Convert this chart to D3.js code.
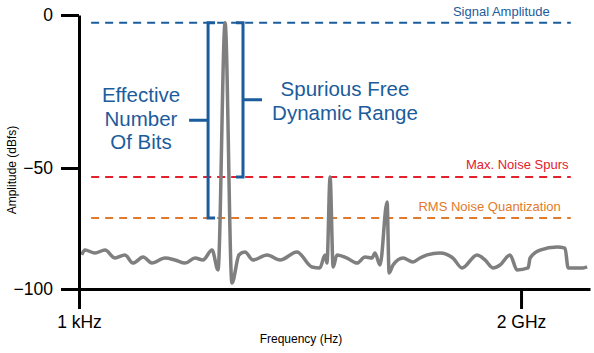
<!DOCTYPE html>
<html>
<head>
<meta charset="utf-8">
<script src="https://cdn.jsdelivr.net/npm/d3@7"></script>
<style>
  body { margin: 0; background: #fff; }
  svg { display: block; font-family: "Liberation Sans", Arial, sans-serif; }
</style>
</head>
<body>
<div id="chart"></div>
<script>
'use strict'

// spectrum trace, frequency in MHz, amplitude in dBfs
const freqMHz = [12, 27, 72, 118, 163, 208, 244, 290, 330, 389, 434, 480, 525, 561, 602, 629, 661, 692, 724,
  751, 787, 851, 910, 986, 1054, 1090, 1113, 1122, 1136, 1150, 1167, 1213, 1258, 1294, 1326, 1339, 1362, 1394,
  1403, 1421, 1466, 1511, 1543, 1575, 1634, 1692, 1733, 1801, 1837, 1873, 1905, 1950, 1982, 2032, 2041, 2086,
  2163, 2199, 2213, 2281, 2299]
const amplitude = [-85.9, -83.9, -85.1, -83.9, -87.2, -85.9, -89.3, -86.8, -89.3, -87.2, -88.0, -89.3, -87.2, -88.0, -83.9, -92.1, -2.5, -97.5, -85.9,
  -84.7, -88.0, -85.9, -88.0, -84.7, -90.9, -91.3, -85.9, -89.3, -53.7, -90.9, -85.9, -87.2, -89.3, -86.8, -87.2, -85.1, -90.1, -64.0,
  -93.4, -90.1, -87.2, -88.8, -87.2, -85.9, -85.1, -87.2, -91.3, -85.9, -88.0, -91.3, -90.1, -85.9, -92.1, -91.3, -87.2, -83.9,
  -82.6, -83.1, -91.3, -91.3, -90.9]

// reference levels
const levelNames = ['Signal Amplitude', 'Max. Noise Spurs', 'RMS Noise Quantization']
const levelValues = [-2.5, -53.7, -70.7]
const levelColors = ['#1b5c9c', '#e3202b', '#e27a2b']

const yTicks = [0, -50, -100]
const xTicks = [0.001, 2000]
const xTickLabels = ['1 kHz', '2 GHz']

////////////////////////////////////
//////////// svg setup /////////////
////////////////////////////////////

const svgWidth = 594, svgHeight = 353

const svg = d3.select('#chart')
  .append('svg')
  .attr('width', svgWidth)
  .attr('height', svgHeight)

// x runs past the 2 GHz tick to the end of the axis line
const x = d3.scaleLinear()
  .domain([0.001, 2312])
  .range([79, 590])

// the drawing stretches the upper half a little
const y = d3.scaleLinear()
  .domain([0, -50, -100])
  .range([15, 168, 289])

const blue = '#1b5c9c'

////////////////////////////////////
//////////// reference lines ///////
////////////////////////////////////

levelValues.forEach((v, i) => {
  svg.append('line')
    .attr('x1', x(55)).attr('x2', x(2225))
    .attr('y1', y(v)).attr('y2', y(v))
    .attr('stroke', levelColors[i])
    .attr('stroke-width', 2)
    .attr('stroke-dasharray', '8,6')
})

const labelRight = [2130, 2215, 2180]
const labelDy = [-7, -8, -7]
levelNames.forEach((name, i) => {
  svg.append('text')
    .attr('x', x(labelRight[i]))
    .attr('y', y(levelValues[i]) + labelDy[i])
    .attr('text-anchor', 'end')
    .style('font-size', '13px')
    .style('fill', levelColors[i])
    .text(name)
})

////////////////////////////////////
//////////// brackets //////////////
////////////////////////////////////

function bracket(xf, top, bottom, serif, tick) {
  const bx = x(xf), y0 = y(top), y1 = y(bottom), ym = (y0 + y1) / 2
  svg.append('path')
    .attr('d', `M${bx + serif},${y0}H${bx}V${y1}H${bx + serif}M${bx},${ym}H${bx + tick}`)
    .attr('fill', 'none')
    .attr('stroke', blue)
    .attr('stroke-width', 3)
}

bracket(584, levelValues[0], levelValues[2], 7, -19)
bracket(742, levelValues[0], levelValues[1], -7, 19)

const enob = ['Effective', 'Number', 'Of Bits']
enob.forEach((t, i) => {
  svg.append('text')
    .attr('x', 141).attr('y', 102 + i * 23.5)
    .attr('text-anchor', 'middle')
    .style('font-size', '20.5px')
    .style('fill', blue)
    .text(t)
})

const sfdr = ['Spurious Free', 'Dynamic Range']
sfdr.forEach((t, i) => {
  svg.append('text')
    .attr('x', 345).attr('y', 96 + i * 23.5)
    .attr('text-anchor', 'middle')
    .style('font-size', '20.5px')
    .style('fill', blue)
    .text(t)
})

////////////////////////////////////
//////////// spectrum //////////////
////////////////////////////////////

const points = freqMHz.map((f, i) => [f, amplitude[i]])

const line = d3.line()
  .x(d => x(d[0]))
  .y(d => y(d[1]))
  .curve(d3.curveMonotoneX)

svg.append('path')
  .datum(points)
  .attr('d', line)
  .attr('fill', 'none')
  .attr('stroke', '#7f7f7f')
  .attr('stroke-width', 3.5)
  .attr('stroke-linejoin', 'round')

////////////////////////////////////
//////////// axes //////////////////
////////////////////////////////////

const yAxis = svg.append('g')
  .attr('transform', `translate(${x(0.001)},0)`)
  .call(d3.axisLeft(y).tickValues(yTicks).tickSize(18).tickSizeOuter(0).tickPadding(8))

const xAxis = svg.append('g')
  .attr('transform', `translate(0,${y(-100)})`)
  .call(d3.axisBottom(x).tickValues(xTicks).tickSize(20).tickSizeOuter(0).tickPadding(7)
    .tickFormat((d, i) => xTickLabels[i]))

;[yAxis, xAxis].forEach(g => {
  g.selectAll('path, line').attr('stroke', '#000').attr('stroke-width', 3)
  g.selectAll('text').style('font-size', '17.5px').style('fill', '#000')
    .style('font-family', '"Liberation Sans", Arial, sans-serif')
})

svg.append('text')
  .attr('transform', 'translate(16,170) rotate(-90)')
  .attr('text-anchor', 'middle')
  .style('font-size', '12px')
  .text('Amplitude (dBfs)')

svg.append('text')
  .attr('x', 301).attr('y', 343)
  .attr('text-anchor', 'middle')
  .style('font-size', '12px')
  .text('Frequency (Hz)')
</script>
</body>
</html>
